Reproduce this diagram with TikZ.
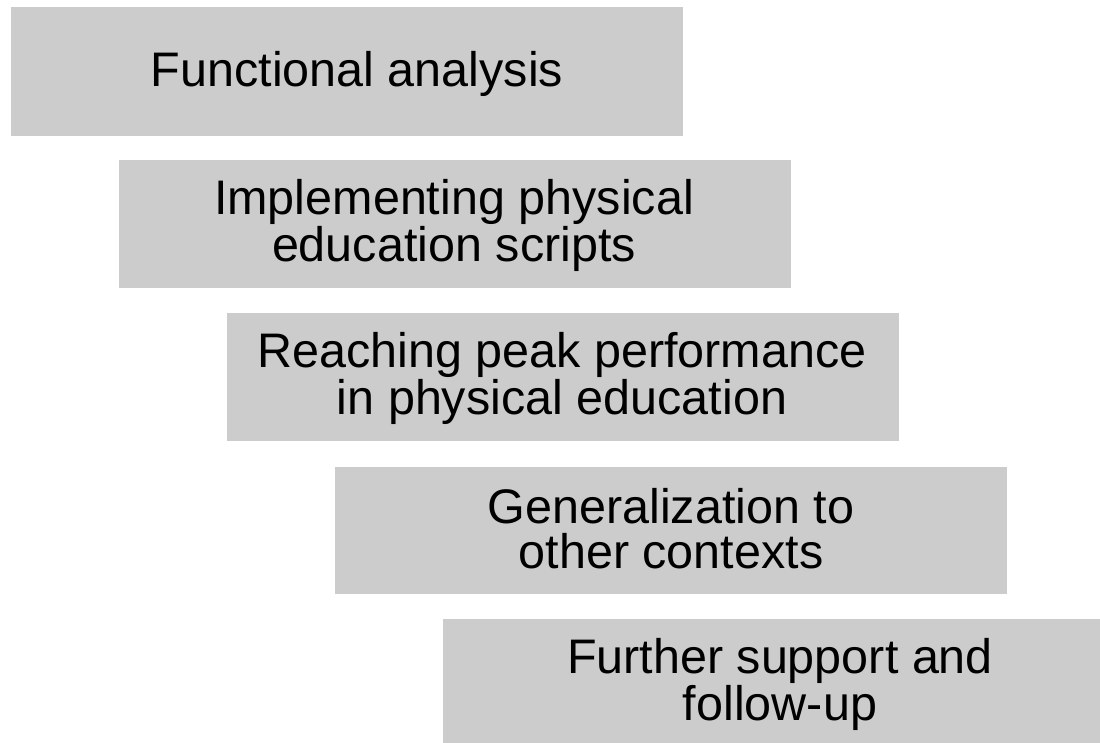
\documentclass[tikz,border=0pt]{standalone}
\usepackage{fontspec}
\setmainfont{Liberation Sans}
\definecolor{boxgray}{HTML}{CCCCCC}
\tikzset{
  stepbox/.style={fill=boxgray, draw=none, rectangle, inner sep=0pt, anchor=north west,
    minimum width=672pt, minimum height=128pt},
  steplabel/.style={inner sep=0pt, anchor=base, align=center, text=black,
    font=\fontsize{48.5}{45}\selectfont}
}
\begin{document}
\begin{tikzpicture}[x=1pt,y=-1pt]
\useasboundingbox (0,0) rectangle (1100,742);
\clip (0,0) rectangle (1100,742);
\fill[white] (0,0) rectangle (1100,742);
\node[stepbox, minimum height=129pt] (b1) at (11,7) {};
\node[stepbox] (b2) at (119,160) {};
\node[stepbox] (b3) at (227,313) {};
\node[stepbox, minimum height=127pt] (b4) at (335,467) {};
\node[stepbox, minimum height=130pt] (b5) at (443,619) {};
\node[steplabel] (t1) at (357,86) {Functional analysis};
\node[steplabel] (t2) at (454,261) {Implementing physical\\education scripts};
\node[steplabel] (t3) at (562,414) {Reaching peak performance\\in physical education};
\node[steplabel] (t4) at (671,568) {Generalization to\\other contexts};
\node[steplabel] (t5) at (780,720) {Further support and\\follow-up};
\end{tikzpicture}
\end{document}
